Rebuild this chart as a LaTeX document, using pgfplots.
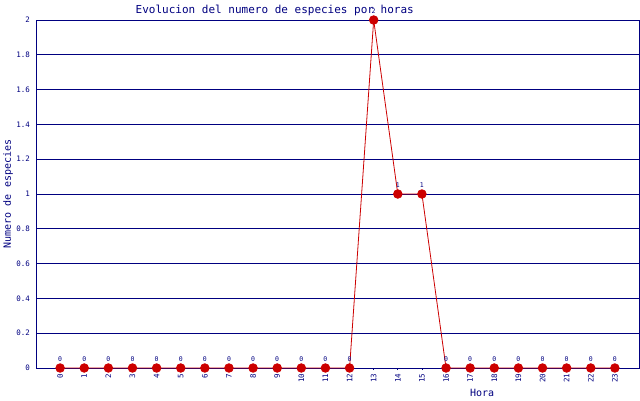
\documentclass[border=0pt]{standalone}
\usepackage{pgfplots}
\pgfplotsset{compat=1.18}
\usepackage{fontspec}
\setmainfont{DejaVu Sans Mono}
\definecolor{navyblue}{RGB}{0,0,128}
\definecolor{darkred}{RGB}{204,0,0}

\pgfplotstableread{
hora especies
0 0
1 0
2 0
3 0
4 0
5 0
6 0
7 0
8 0
9 0
10 0
11 0
12 0
13 2
14 1
15 1
16 0
17 0
18 0
19 0
20 0
21 0
22 0
23 0
}\datos

\begin{document}
\begin{tikzpicture}
  \begin{axis}[
      at={(0,0)},
      anchor=south west,
      scale only axis,
      width=603pt,
      height=348pt,
      xmin=-1, xmax=24,
      ymin=0, ymax=2,
      xtick={0,...,23},
      ytick={0,0.2,...,2.01},
      yticklabel style={/pgf/number format/fixed, /pgf/number format/precision=1},
      /pgf/number format/assume math mode=true,
      ymajorgrids,
      grid style={navyblue, line width=0.8pt},
      axis line style={navyblue, line width=0.8pt},
      tick align=outside,
      xtick pos=bottom,
      major tick length=2pt,
      xtick style={navyblue, line width=0.8pt},
      ytick style={draw=none},
      tick label style={font=\fontsize{7.5}{8}\selectfont, text=navyblue},
      xticklabel style={rotate=90, anchor=east, inner sep=3.5pt},
      yticklabel style={inner sep=1pt, xshift=-3pt},
      title={Evolucion del numero de especies por horas},
      title style={font=\fontsize{11}{12}\selectfont, text=navyblue,
        at={(axis description cs:0.396,1)}, anchor=south, inner sep=0pt, yshift=-2pt},
      xlabel={Hora},
      xlabel style={font=\fontsize{10}{11}\selectfont, text=navyblue,
        at={(axis description cs:0.74,0)}, anchor=center, yshift=-25pt},
      ylabel={Numero de especies},
      ylabel style={font=\fontsize{10}{11}\selectfont, text=navyblue,
        at={(axis description cs:-0.0464,0.5)}, anchor=center, rotate=0},
      clip=false,
      nodes near coords,
      nodes near coords style={font=\fontsize{6.5}{7}\selectfont, text=navyblue,
        anchor=south, inner sep=0pt, yshift=6pt},
    ]
    \addplot[darkred, line width=0.8pt, mark=*, mark size=4.3pt,
      mark options={fill=darkred, draw=darkred}] table[x=hora, y=especies] {\datos};
  \end{axis}
  \pgfresetboundingbox
  \path[use as bounding box] (-36pt,-32pt) rectangle (604pt,368pt);
\end{tikzpicture}
\end{document}
